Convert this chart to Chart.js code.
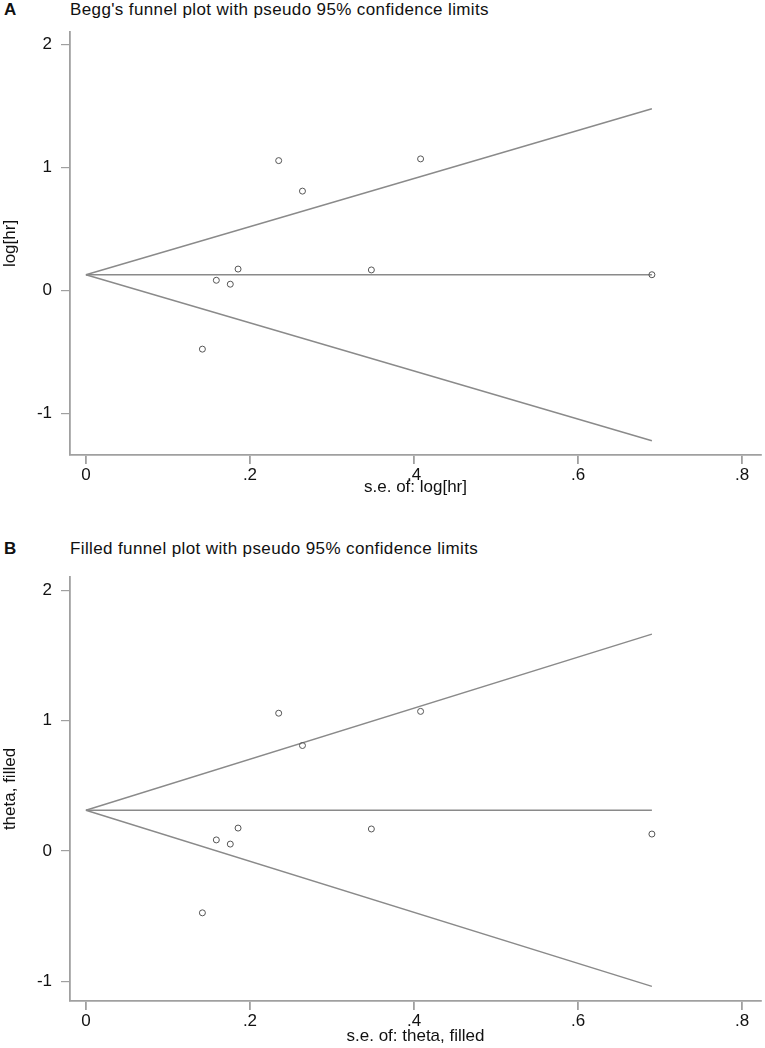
<!DOCTYPE html>
<html>
<head>
<meta charset="utf-8">
<script src="https://cdn.jsdelivr.net/npm/chart.js@4"></script>
<style>
  body { margin: 0; background: #fff; font-family: "Liberation Sans", Arial, sans-serif; }
  .letter { position: absolute; left: 4px; font-weight: bold; font-size: 17px; color: #111; }
  .title { position: absolute; left: 70px; font-size: 17px; letter-spacing: 0.38px; color: #111; white-space: nowrap; }
  canvas { position: absolute; left: 0; }
</style>
</head>
<body>
<div class="letter" style="top:0px">A</div>
<div class="title" style="top:0px">Begg's funnel plot with pseudo 95% confidence limits</div>
<canvas id="chartA" width="765" height="510" style="top:0"></canvas>

<div class="letter" style="top:539px">B</div>
<div class="title" style="top:539px">Filled funnel plot with pseudo 95% confidence limits</div>
<canvas id="chartB" width="765" height="528" style="top:520px"></canvas>

<script>
// study standard errors and effects
var studySE = [0.142, 0.159, 0.176, 0.1855, 0.235, 0.264, 0.348, 0.408, 0.69];
var studyEffect = [-0.475, 0.085, 0.053, 0.176, 1.058, 0.81, 0.169, 1.072, 0.13];

// funnel line ends: [se at apex, se at end]
var funnelSE = [0, 0.69];
var beggCenter = [0.13, 0.13];
var beggUpper = [0.13, 1.48];
var beggLower = [0.13, -1.22];
var filledCenter = [0.313, 0.313];
var filledUpper = [0.313, 1.665];
var filledLower = [0.313, -1.04];

var xTicks = [0, 0.2, 0.4, 0.6, 0.8];
var yTicks = [-1, 0, 1, 2];

var lineColor = '#8a8a8a';
var axisColor = '#a0a0a0';
var textColor = '#111';
var fontSpec = { size: 17, family: 'Liberation Sans' };

function toPoints(xs, ys) {
  return xs.map(function(x, i) { return { x: x, y: ys[i] }; });
}

function lineSet(ys) {
  return {
    type: 'line', data: toPoints(funnelSE, ys), borderColor: lineColor, borderWidth: 1.4,
    pointRadius: 0, fill: false, tension: 0, order: 1
  };
}

function fmtX(v) {
  if (v === 0) return '0';
  return String(Math.round(v * 10) / 10).replace(/^0/, '');
}

function makeChart(id, opts) {
  var ctx = document.getElementById(id).getContext('2d');
  return new Chart(ctx, {
    type: 'scatter',
    data: {
      datasets: [
        {
          label: 'studies', data: toPoints(studySE, studyEffect), pointRadius: 3, pointHoverRadius: 3,
          borderColor: '#555', borderWidth: 1, backgroundColor: 'rgba(255,255,255,0)', order: 0
        },
        lineSet(opts.center),
        lineSet(opts.upper),
        lineSet(opts.lower)
      ]
    },
    options: {
      responsive: false,
      animation: false,
      devicePixelRatio: 1,
      layout: { padding: { top: opts.padTop, right: 1, left: 0, bottom: 0 } },
      plugins: { legend: { display: false }, tooltip: { enabled: false } },
      scales: {
        x: {
          type: 'linear', min: -0.0194, max: 0.823,
          afterBuildTicks: function(scale) { scale.ticks = xTicks.map(function(v) { return { value: v }; }); },
          afterFit: function(scale) { scale.height = opts.xHeight; },
          border: { color: axisColor, width: 1.8 },
          grid: { drawOnChartArea: false, color: axisColor, lineWidth: 1.8, tickLength: 9 },
          ticks: { color: textColor, font: fontSpec, padding: 1, maxRotation: 0, callback: fmtX },
          title: { display: true, text: opts.xTitle, color: textColor, font: fontSpec, padding: { top: 0, bottom: opts.xTitlePad } }
        },
        y: {
          type: 'linear', min: opts.yMin, max: opts.yMax,
          afterBuildTicks: function(scale) { scale.ticks = yTicks.map(function(v) { return { value: v }; }); },
          afterFit: function(scale) { scale.width = 70; },
          border: { color: axisColor, width: 1.8 },
          grid: { drawOnChartArea: false, color: axisColor, lineWidth: 1.2, tickLength: 9 },
          ticks: { color: textColor, font: fontSpec, padding: 9, callback: function(v) { return String(v); } },
          title: { display: true, text: opts.yTitle, color: textColor, font: fontSpec, padding: { top: 0, bottom: 0 } }
        }
      }
    }
  });
}

makeChart('chartA', {
  center: beggCenter, upper: beggUpper, lower: beggLower,
  padTop: 32, xHeight: 55, xTitlePad: 12, yMin: -1.336, yMax: 2.104,
  xTitle: 's.e. of: log[hr]', yTitle: 'log[hr]'
});

makeChart('chartB', {
  center: filledCenter, upper: filledUpper, lower: filledLower,
  padTop: 57, xHeight: 47, xTitlePad: 1, yMin: -1.152, yMax: 2.104,
  xTitle: 's.e. of: theta, filled', yTitle: 'theta, filled'
});
</script>
</body>
</html>
